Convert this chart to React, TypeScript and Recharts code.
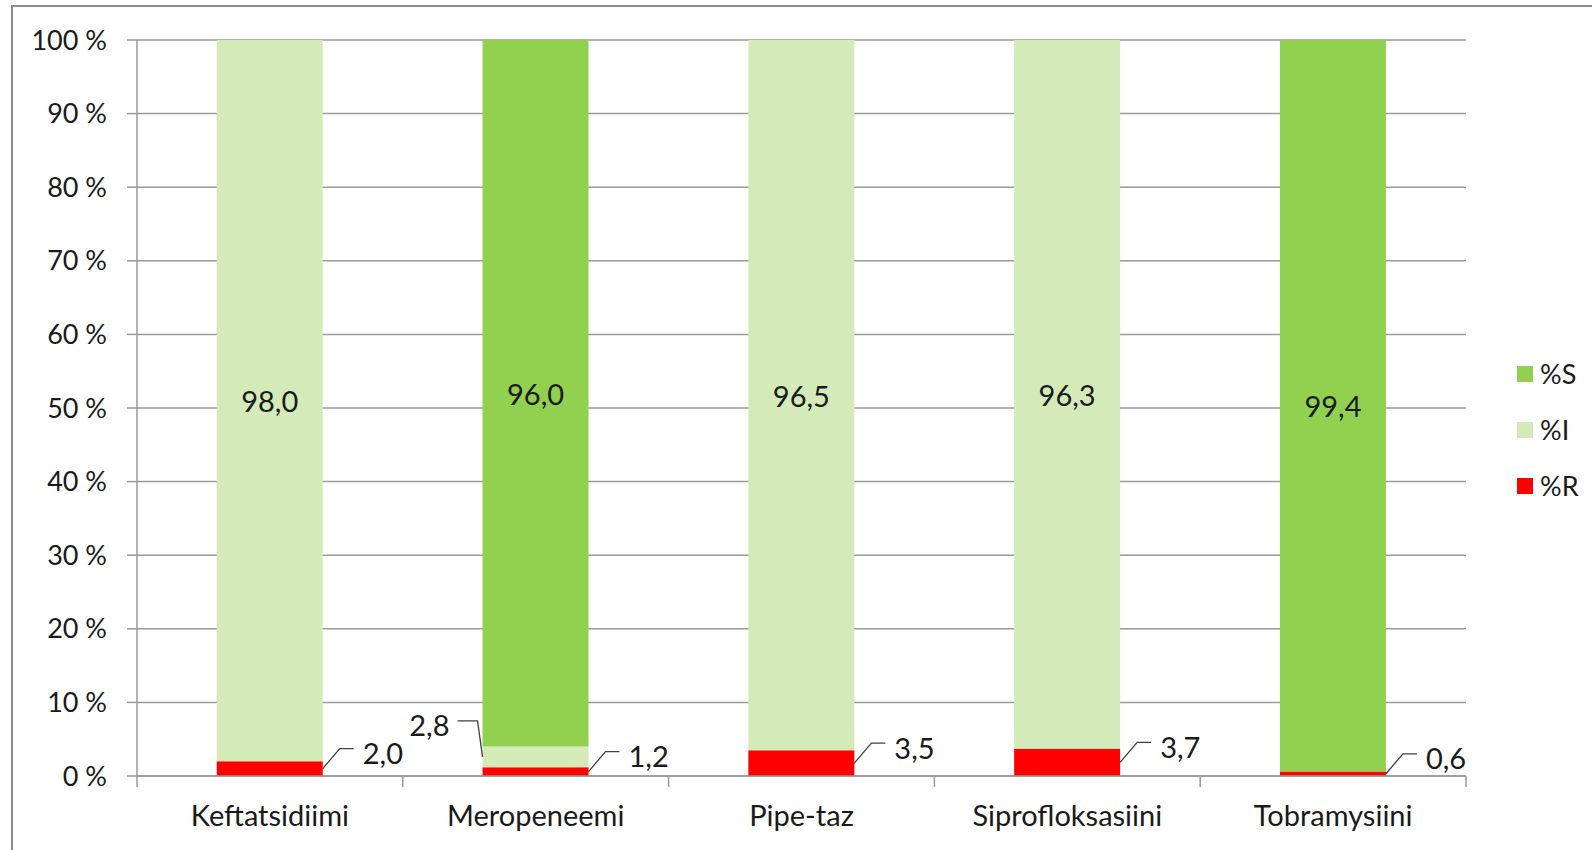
import React from 'react';
import { BarChart, Bar, XAxis, YAxis, CartesianGrid, Legend, LabelList, Cell } from 'recharts';

const categories = ['Keftatsidiimi', 'Meropeneemi', 'Pipe-taz', 'Siprofloksasiini', 'Tobramysiini'];
const pctR = [2.0, 1.2, 3.5, 3.7, 0.6];
const pctI = [0, 2.8, 0, 0, 0];
const pctS = [98.0, 96.0, 96.5, 96.3, 99.4];
const yTicks = [0, 10, 20, 30, 40, 50, 60, 70, 80, 90, 100];
const seriesNames = ['%S', '%I', '%R'];

const data = categories.map((name, i) => ({ name, R: pctR[i], I: pctI[i], S: pctS[i] }));

const GREEN = '#92D050';
const LIGHT = '#D4EBB9';
const RED = '#FF0000';
const S_FILLS = [LIGHT, GREEN, LIGHT, LIGHT, GREEN];
const LEGEND_COLORS = [GREEN, LIGHT, RED];
const FONT = 'Lato, "Noto Sans", sans-serif';
const FS = 27;
const FS_CAT = 29;
const FS_LBL = 29;
const TXT = '#1a1a1a';
const AXIS = '#9a9a9a';
const LEADER = '#404040';

const fmt = (v: number) => v.toFixed(1).replace('.', ',');

const CatTick = (props: any) => {
  const { x, y, payload, index, visibleTicksCount } = props;
  const half = payload && typeof payload.offset === 'number' ? payload.offset : 0;
  const isLast = index === visibleTicksCount - 1;
  return (
    <g>
      <line x1={x - half} x2={x - half} y1={y} y2={y + 11} stroke={AXIS} strokeWidth={1.5} />
      {isLast && <line x1={x + half} x2={x + half} y1={y} y2={y + 11} stroke={AXIS} strokeWidth={1.5} />}
      <text x={x} y={y + 38} textAnchor="middle" dominantBaseline="central" fontFamily={FONT} fontSize={FS_CAT} fill={TXT}>
        {payload.value}
      </text>
    </g>
  );
};

const SLabel = (props: any) => {
  const { x, y, width, height, value } = props;
  return (
    <text x={x + width / 2} y={y + height / 2} textAnchor="middle" dominantBaseline="central" fontFamily={FONT} fontSize={FS_LBL} fill={TXT}>
      {fmt(Number(value))}
    </text>
  );
};

const RLabel = (props: any) => {
  const { x, y, width, height, value } = props;
  const sx = x + width;
  const sy = y + height / 2;
  const ex = sx + 17;
  const ey = sy - 20;
  const hx = ex + 14;
  return (
    <g>
      <path d={`M${sx},${sy} L${ex},${ey} L${hx},${ey}`} stroke={LEADER} strokeWidth={1.3} fill="none" />
      <text x={hx + 9} y={ey + 4} dominantBaseline="central" fontFamily={FONT} fontSize={FS_LBL} fill={TXT}>
        {fmt(Number(value))}
      </text>
    </g>
  );
};

const ILabel = (props: any) => {
  const { x, y, height, value } = props;
  if (!value || Number(value) <= 0) return null;
  const sx = x;
  const sy = y + height / 2;
  const ex = sx - 5;
  const ey = sy - 36;
  const hx = ex - 20;
  return (
    <g>
      <path d={`M${sx},${sy} L${ex},${ey} L${hx},${ey}`} stroke={LEADER} strokeWidth={1.3} fill="none" />
      <text x={hx - 8} y={ey + 4} textAnchor="end" dominantBaseline="central" fontFamily={FONT} fontSize={FS_LBL} fill={TXT}>
        {fmt(Number(value))}
      </text>
    </g>
  );
};

const LegendContent = () => (
  <div style={{ fontFamily: FONT, fontSize: FS, color: TXT }}>
    {seriesNames.map((n, i) => (
      <div key={n} style={{ height: 56, display: 'flex', alignItems: 'center' }}>
        <span style={{ display: 'inline-block', width: 16, height: 16, background: LEGEND_COLORS[i], marginLeft: 5, marginRight: 7 }} />
        <span style={{ lineHeight: '30px' }}>{n}</span>
      </div>
    ))}
  </div>
);

export default function App() {
  return (
    <div style={{ position: 'absolute', left: 0, top: 0, width: 1592, height: 850, overflow: 'hidden', background: '#fff' }}>
      <div style={{ position: 'absolute', left: 11, top: 5, width: 1700, height: 1000, border: '2px solid #8c8c8c', boxSizing: 'border-box' }} />
      <BarChart
        width={1592}
        height={850}
        data={data}
        margin={{ top: 40, right: 126, bottom: 0, left: 0 }}
        barCategoryGap="30%"
        style={{ fontFamily: FONT }}
      >
        <CartesianGrid vertical={false} stroke={AXIS} strokeWidth={1.5} />
        <XAxis
          dataKey="name"
          height={74}
          axisLine={{ stroke: AXIS, strokeWidth: 1.5 }}
          tickLine={false}
          tickSize={0}
          tickMargin={0}
          tick={<CatTick />}
          interval={0}
        />
        <YAxis
          width={137}
          domain={[0, 100]}
          ticks={yTicks}
          interval={0}
          tickFormatter={(v: number) => `${v} %`}
          axisLine={{ stroke: AXIS, strokeWidth: 1.5 }}
          tickLine={{ stroke: AXIS, strokeWidth: 1.5 }}
          tickSize={10}
          tickMargin={20}
          tick={{ fontFamily: FONT, fontSize: FS, fill: TXT }}
        />
        <Legend
          layout="vertical"
          align="center"
          verticalAlign="middle"
          wrapperStyle={{ left: 1512, top: 346, width: 80 }}
          content={<LegendContent />}
        />
        <Bar dataKey="R" name="%R" stackId="a" fill={RED} isAnimationActive={false}>
          <LabelList dataKey="R" content={<RLabel />} />
        </Bar>
        <Bar dataKey="I" name="%I" stackId="a" fill={LIGHT} isAnimationActive={false}>
          <LabelList dataKey="I" content={<ILabel />} />
        </Bar>
        <Bar dataKey="S" name="%S" stackId="a" fill={GREEN} isAnimationActive={false}>
          {data.map((d, i) => (
            <Cell key={d.name} fill={S_FILLS[i]} />
          ))}
          <LabelList dataKey="S" content={<SLabel />} />
        </Bar>
      </BarChart>
    </div>
  );
}
